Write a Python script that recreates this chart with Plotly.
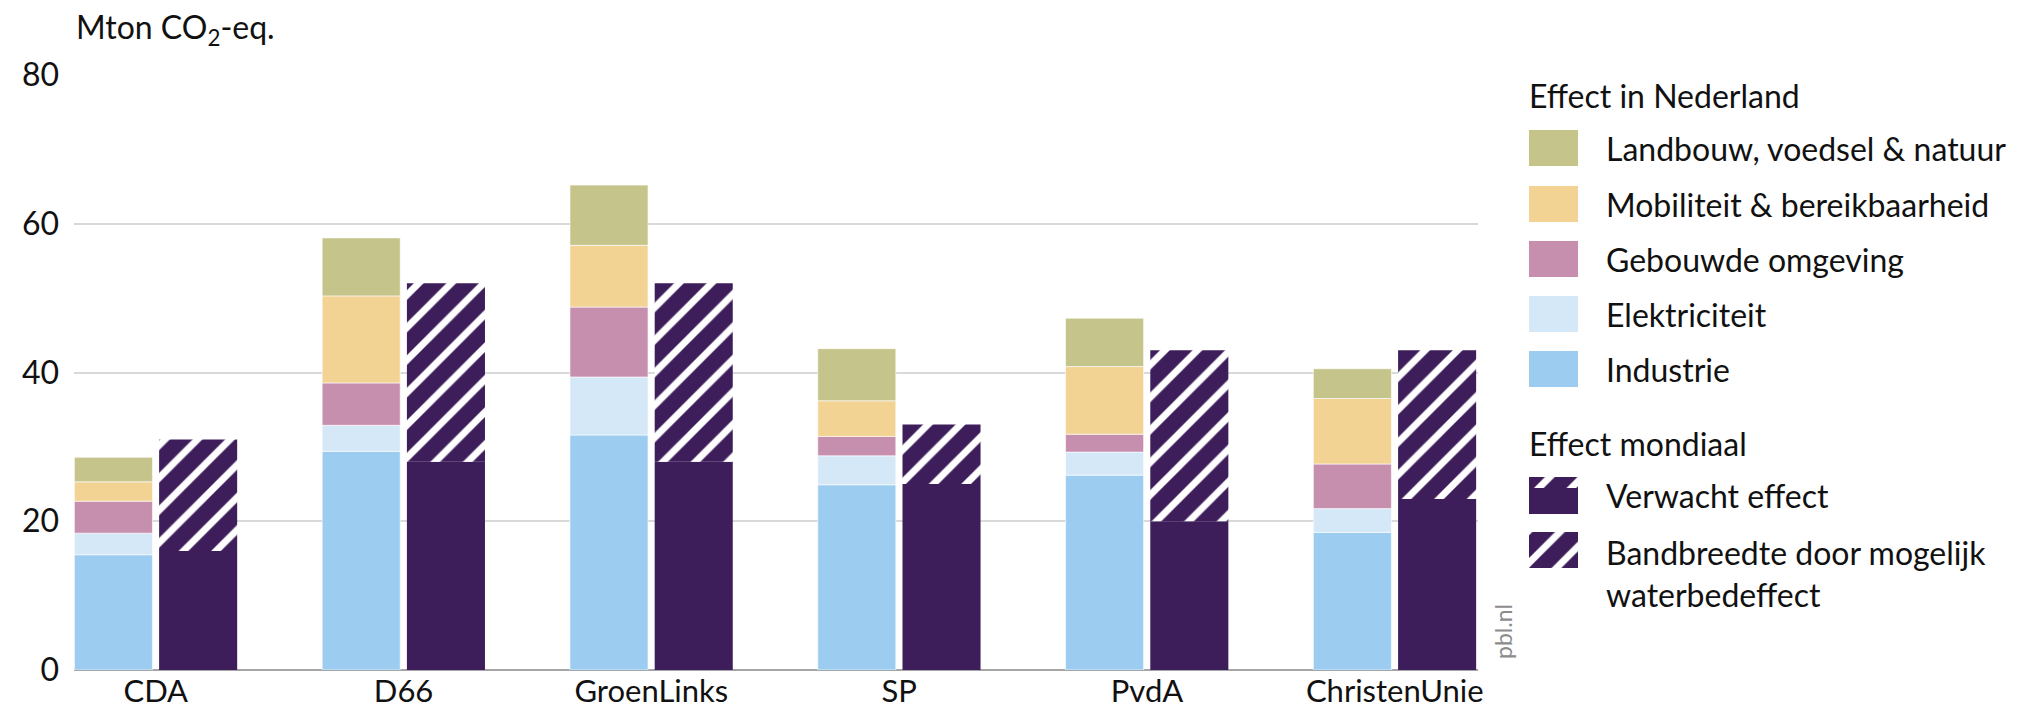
import plotly.graph_objects as go

# data (Mton CO2-eq.)
partijen = ["CDA", "D66", "GroenLinks", "SP", "PvdA", "ChristenUnie"]
industrie = [15.5, 29.4, 31.6, 24.9, 26.2, 18.5]
elektriciteit = [2.9, 3.5, 7.8, 3.9, 3.1, 3.2]
gebouwde_omgeving = [4.3, 5.7, 9.4, 2.6, 2.4, 6.0]
mobiliteit = [2.6, 11.7, 8.3, 4.8, 9.1, 8.8]
landbouw = [3.3, 7.8, 8.1, 7.0, 6.5, 4.0]
verwacht_effect = [16, 28, 28, 25, 20, 23]
bovengrens_mondiaal = [31, 52, 52, 33, 43, 43]

sector_names = ["Industrie", "Elektriciteit", "Gebouwde omgeving",
                "Mobiliteit &amp; bereikbaarheid", "Landbouw, voedsel &amp; natuur"]
sector_values = [industrie, elektriciteit, gebouwde_omgeving, mobiliteit, landbouw]
sector_colors = ["#9ccdf0", "#d4e8f8", "#c68fad", "#f2d394", "#c5c48a"]
PURPLE = "#3d1d5a"
FONT = "Lato"
FS = 32

W, H = 2029, 707
ML, MR, MT, MB = 66, 25, 67, 45
PW, PH = W - ML - MR, H - MT - MB


def px_x(x):
    return (x - ML) / PW


def px_y(y):
    return (H - MB - y) / PH


n = len(partijen)
off, bw = 0.171, 0.315
x_left = [i - off for i in range(n)]
x_right = [i + off for i in range(n)]

fig = go.Figure()

# stacked sector bars (left of each pair)
base = [0.0] * n
for name, vals, col in zip(sector_names, sector_values, sector_colors):
    fig.add_trace(go.Bar(x=x_left, y=vals, base=list(base), width=bw, name=name,
                         marker=dict(color=col, line=dict(color="rgba(255,255,255,0.6)", width=1)),
                         showlegend=False))
    base = [b + v for b, v in zip(base, vals)]

# global effect (right of each pair)
fig.add_trace(go.Bar(x=x_right, y=verwacht_effect, width=bw, name="Verwacht effect",
                     marker=dict(color=PURPLE, line=dict(width=0)), showlegend=False))
band = [t - v for t, v in zip(bovengrens_mondiaal, verwacht_effect)]
hatch = dict(shape="/", fgcolor="white", bgcolor=PURPLE, size=23, solidity=0.3, fillmode="replace")
fig.add_trace(go.Bar(x=x_right, y=band, base=verwacht_effect, width=bw,
                     name="Bandbreedte door mogelijk waterbedeffect",
                     marker=dict(color=PURPLE, line=dict(width=0), pattern=hatch),
                     showlegend=False))

# legend swatches drawn on a hidden helper axis (pixels from plot top)
rows = [(55, 36), (111, 36), (166, 36), (221, 36), (276, 36)]
legend_order = [4, 3, 2, 1, 0]
for (top, h), k in zip(rows, legend_order):
    fig.add_trace(go.Bar(x=[0], y=[h], base=[top], width=1, xaxis="x2", yaxis="y2",
                         marker=dict(color=sector_colors[k], line=dict(width=0)),
                         showlegend=False, hoverinfo="skip"))
# verwacht effect swatch: hatched top, solid bottom
fig.add_trace(go.Bar(x=[0], y=[11], base=[402], width=1, xaxis="x2", yaxis="y2",
                     marker=dict(color=PURPLE, line=dict(width=0), pattern=hatch),
                     showlegend=False, hoverinfo="skip"))
fig.add_trace(go.Bar(x=[0], y=[26], base=[413], width=1, xaxis="x2", yaxis="y2",
                     marker=dict(color=PURPLE, line=dict(width=0)),
                     showlegend=False, hoverinfo="skip"))
fig.add_trace(go.Bar(x=[0], y=[36], base=[457], width=1, xaxis="x2", yaxis="y2",
                     marker=dict(color=PURPLE, line=dict(width=0), pattern=hatch),
                     showlegend=False, hoverinfo="skip"))

annotations = [
    dict(text="Mton CO<sub>2</sub>-eq.", x=px_x(66), y=px_y(21), xanchor="left", yanchor="middle",
         font=dict(size=FS)),
    dict(text="Effect in Nederland", x=px_x(1519), y=px_y(87), xanchor="left", yanchor="middle",
         font=dict(size=FS)),
    dict(text="Effect mondiaal", x=px_x(1519), y=px_y(435), xanchor="left", yanchor="middle",
         font=dict(size=FS)),
    dict(text="Verwacht effect", x=px_x(1596), y=px_y(488), xanchor="left", yanchor="middle",
         font=dict(size=FS)),
    dict(text="Bandbreedte door mogelijk<br>waterbedeffect", x=px_x(1596), y=px_y(565),
         xanchor="left", yanchor="middle", align="left", font=dict(size=FS)),
    dict(text="pbl.nl", x=px_x(1495), y=px_y(624), xanchor="center", yanchor="middle",
         textangle=-90, font=dict(size=23, color="#8c8c8c")),
]
for (top, h), k in zip(rows, legend_order):
    annotations.append(dict(text=sector_names[k], x=px_x(1596), y=px_y(MT + top + h / 2),
                            xanchor="left", yanchor="middle", font=dict(size=FS)))
for a in annotations:
    a.update(xref="paper", yref="paper", showarrow=False)

fig.update_layout(
    width=W, height=H,
    margin=dict(l=ML, r=MR, t=MT, b=MB, autoexpand=False),
    barmode="overlay",
    plot_bgcolor="white", paper_bgcolor="white",
    font=dict(family=FONT, size=FS, color="#111111"),
    showlegend=False,
    xaxis=dict(domain=[0, px_x(1470)], range=[-0.33, 5.336], tickvals=list(range(n)),
               ticktext=partijen, showgrid=False, zeroline=False, showline=False, ticks="",
               tickfont=dict(size=31), ticklabelstandoff=0, automargin=False),
    yaxis=dict(range=[0, 80], tickvals=[0, 20, 40, 60, 80], gridcolor="#d9d9d9", gridwidth=2,
               zeroline=True, zerolinecolor="#a6a6a6", zerolinewidth=2, ticks="",
               ticklabelstandoff=14, showline=False, automargin=False),
    xaxis2=dict(domain=[px_x(1521), px_x(1570)], range=[-0.5, 0.5], anchor="y2", visible=False),
    yaxis2=dict(domain=[0, 1], range=[PH, 0], anchor="x2", visible=False),
    annotations=annotations,
)

fig.write_html("out.html")
